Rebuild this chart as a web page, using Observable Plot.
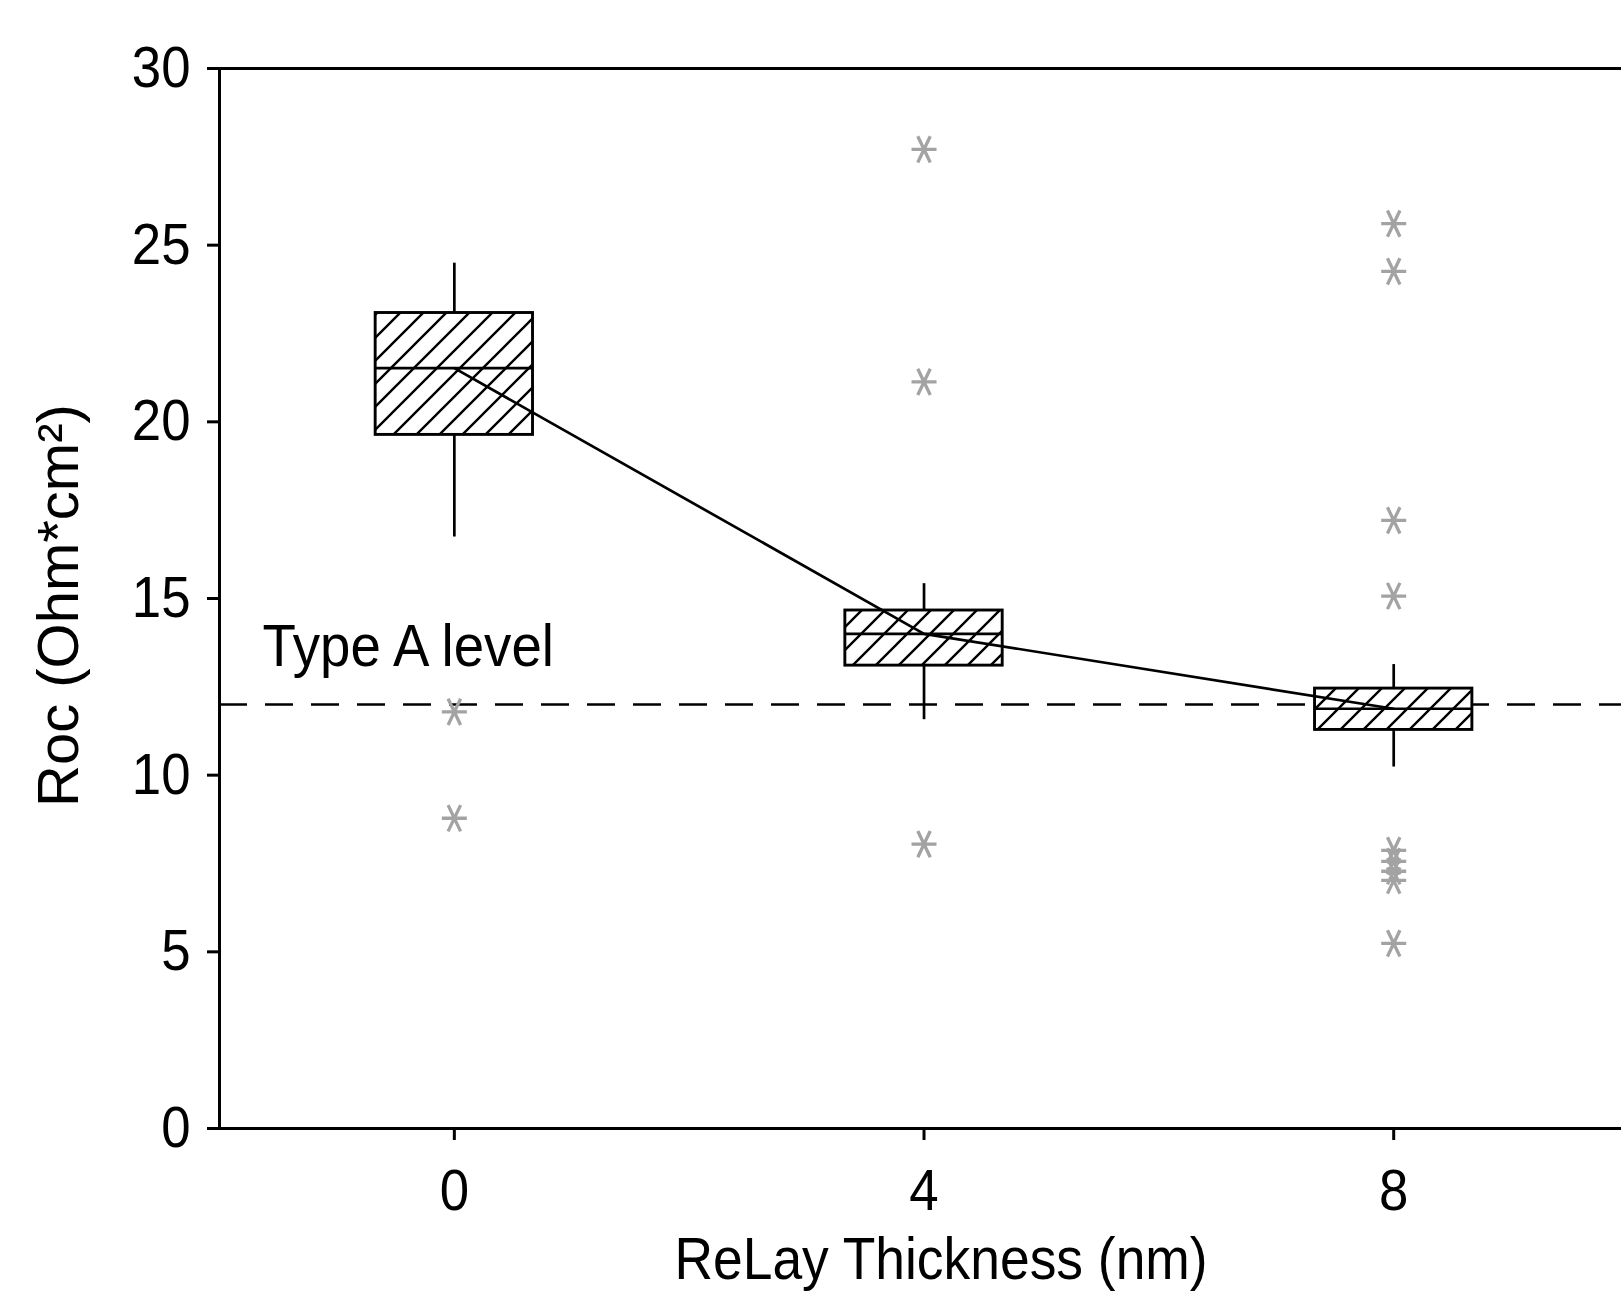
<!DOCTYPE html>
<html><head><meta charset="utf-8">
<script src="https://cdn.jsdelivr.net/npm/d3@7"></script>
<script src="https://cdn.jsdelivr.net/npm/@observablehq/plot@0.6"></script>
<style>body{margin:0;background:#fff}</style>
</head><body><div id="chart"></div>
<script>
// ---- data ----
const thickness   = [0, 4, 8];
const whiskerLow  = [16.74, 11.57, 10.23];
const q1          = [19.63, 13.10, 11.28];
const median      = [21.52, 14.00, 11.88];
const q3          = [23.08, 14.66, 12.45];
const whiskerHigh = [24.49, 15.42, 13.13];
const outlierX = [0, 0, 4, 4, 4, 8, 8, 8, 8, 8, 8, 8, 8, 8];
const outlierY = [11.79, 8.78, 27.71, 21.13, 8.05, 25.61, 24.26, 17.21, 15.07, 7.87, 7.56, 7.28, 7.02, 5.24];
const typeALevel = 12;
const typeALabel = "Type A level";
const xTicks = [0, 4, 8];
const yTicks = [0, 5, 10, 15, 20, 25, 30];
const xLabel = "ReLay Thickness (nm)";
const yLabel = "Roc (Ohm*cm²)";

const boxes = thickness.map((x, i) => ({x, lo: whiskerLow[i], q1: q1[i], med: median[i], q3: q3[i], hi: whiskerHigh[i]}));
const outliers = outlierX.map((x, i) => ({x, y: outlierY[i]}));
const hw = 0.67;

const asteriskH = {
  draw(ctx, size) {
    const r = Math.sqrt(size / Math.PI);
    const t = r * 0.5, u = r * 1.05;
    ctx.moveTo(-r, 0); ctx.lineTo(r, 0);
    ctx.moveTo(-t, -u); ctx.lineTo(t, u);
    ctx.moveTo(-t, u); ctx.lineTo(t, -u);
  }
};

const font = "'Liberation Sans', Arial, sans-serif";

const chart = Plot.plot({
  width: 1621, height: 1294,
  marginLeft: 219, marginRight: 0, marginTop: 68, marginBottom: 166,
  style: {fontFamily: font, fontSize: "58px", color: "#000", background: "#fff", overflow: "visible"},
  x: {domain: [-2, 9.94]},
  y: {domain: [0, 30]},
  marks: [
    Plot.ruleY([typeALevel], {stroke: "#000", strokeWidth: 2.5, strokeDasharray: "28,18"}),
    Plot.ruleX(boxes, {x: "x", y1: "q3", y2: "hi", stroke: "#000", strokeWidth: 2.7}),
    Plot.ruleX(boxes, {x: "x", y1: "lo", y2: "q1", stroke: "#000", strokeWidth: 2.7}),
    Plot.rect(boxes, {x1: d => d.x - hw, x2: d => d.x + hw, y1: "q1", y2: "q3", fill: "url(#hatch)", stroke: "#000", strokeWidth: 2.9}),
    Plot.ruleY(boxes, {y: "med", x1: d => d.x - hw, x2: d => d.x + hw, stroke: "#000", strokeWidth: 2.7}),
    Plot.line(boxes, {x: "x", y: "med", stroke: "#000", strokeWidth: 2.7}),
    Plot.dot(outliers, {x: "x", y: "y", symbol: asteriskH, r: 12.5, fill: "none", stroke: "#a3a3a3", strokeWidth: 3.3}),
    Plot.text([typeALabel], {x: -1.634, y: 13.64, text: d => d, textAnchor: "start", fontSize: 60}),
    Plot.ruleY([0], {stroke: "#000", strokeWidth: 3}),
    Plot.ruleY([30], {stroke: "#000", strokeWidth: 3}),
    Plot.ruleX([-2], {stroke: "#000", strokeWidth: 3}),
    Plot.axisX(xTicks, {tickSize: 12, tickPadding: 28, strokeWidth: 3, fontSize: 58, tickFormat: d3.format("d"), label: null}),
    Plot.axisY(yTicks, {tickSize: 12, tickPadding: 17, strokeWidth: 3, fontSize: 58, label: null}),
    Plot.text([xLabel], {x: 4, frameAnchor: "bottom", dx: 17, dy: 150, lineAnchor: "bottom", textAnchor: "middle", text: d => d, fontSize: 60}),
    Plot.text([yLabel], {y: 14.8, frameAnchor: "left", dx: -142, rotate: -90, lineAnchor: "bottom", textAnchor: "middle", text: d => d, fontSize: 58})
  ]
});

d3.select(chart).insert("defs", ":first-child").html(
  '<pattern id="hatch" patternUnits="userSpaceOnUse" width="23" height="23">' +
  '<rect width="23" height="23" fill="#fff"/>' +
  '<path d="M0,23L23,0M-6,6L6,-6M17,29L29,17" stroke="#000" stroke-width="2.4"/></pattern>'
);
document.getElementById("chart").appendChild(chart);

// the reference typeface is narrower than the installed sans: squeeze horizontal text
d3.select(chart).selectAll("text").each(function () {
  const s = this.textContent;
  if (s === yLabel) return;
  const f = s === xLabel ? 0.89 : 0.91;
  const L = this.getComputedTextLength();
  this.setAttribute("textLength", L * f);
  this.setAttribute("lengthAdjust", "spacingAndGlyphs");
});
</script>
</body></html>
